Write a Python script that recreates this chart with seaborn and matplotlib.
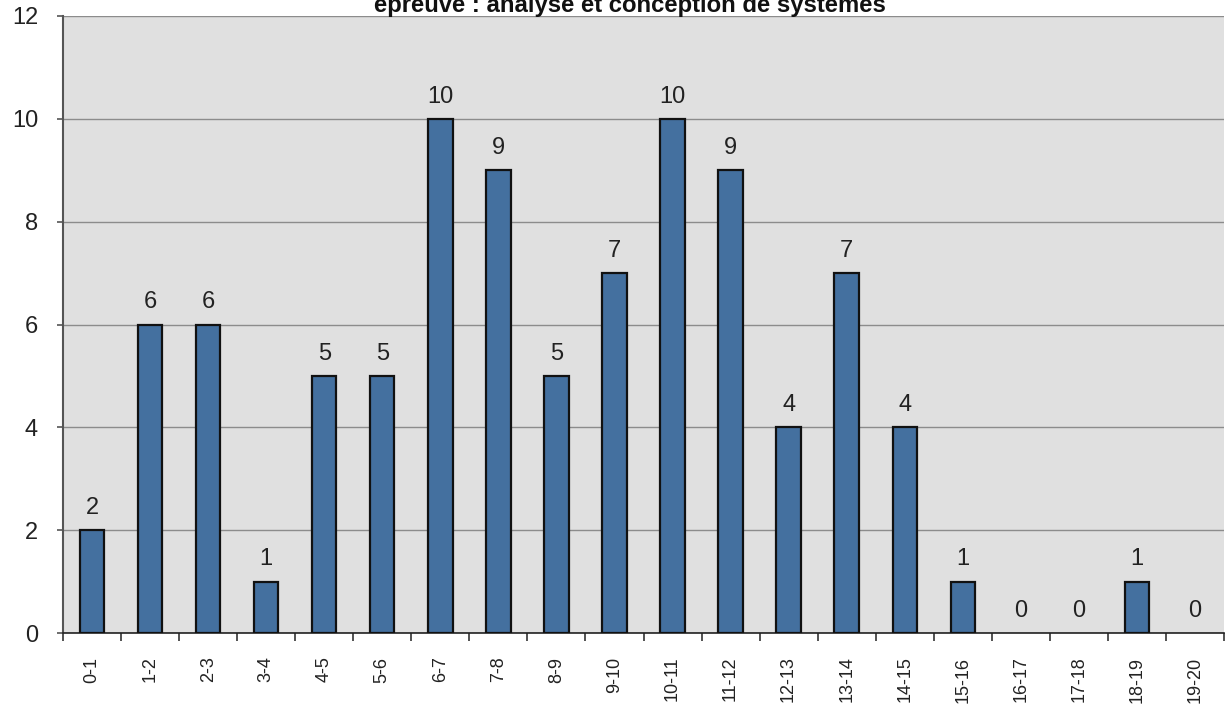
import matplotlib
matplotlib.use("Agg")
import matplotlib.pyplot as plt
import seaborn as sns
import pandas as pd
import numpy as np

# Score brackets and number of candidates in each
intervals = ["0-1", "1-2", "2-3", "3-4", "4-5", "5-6", "6-7", "7-8", "8-9", "9-10",
             "10-11", "11-12", "12-13", "13-14", "14-15", "15-16", "16-17", "17-18",
             "18-19", "19-20"]
counts = [2, 6, 6, 1, 5, 5, 10, 9, 5, 7, 10, 9, 4, 7, 4, 1, 0, 0, 1, 0]
y_ticks = [0, 2, 4, 6, 8, 10, 12]
title = "épreuve : analyse et conception de systèmes"

df = pd.DataFrame({"intervalle": intervals, "effectif": counts})

sns.set_theme(style="white")
plt.rcParams["font.family"] = ["Liberation Sans", "DejaVu Sans"]

W, H = 1225, 717
fig = plt.figure(figsize=(W / 100, H / 100), dpi=100)
left, right, top, bottom = 63, 1224, 16, 633
ax = fig.add_axes([left / W, (H - bottom) / H, (right - left) / W, (bottom - top) / H])
ax.set_facecolor("#e0e0e0")

sns.barplot(data=df, x="intervalle", y="effectif", ax=ax, color="#44709f",
            saturation=1, width=0.42, edgecolor="#111111", linewidth=1.6, zorder=3)

# empty brackets get no outline
for patch, c in zip(ax.patches, counts):
    if c == 0:
        patch.set_linewidth(0)

ax.bar_label(ax.containers[0], labels=[str(c) for c in counts], padding=8,
             fontsize=17, color="#222222")

ax.set_ylim(0, 12)
ax.set_xlim(-0.5, len(intervals) - 0.5)
ax.set_yticks(y_ticks)
ax.set_yticklabels([str(t) for t in y_ticks], fontsize=17, color="#222222")
ax.yaxis.grid(True, color="#8c8c8c", linewidth=1.0, zorder=0)
ax.set_axisbelow(True)

# category labels at bar centres, tick marks at bracket boundaries
ax.set_xticks(range(len(intervals)))
ax.set_xticklabels(intervals, rotation=90, fontsize=13, color="#222222")
ax.set_xticks(np.arange(-0.5, len(intervals)), minor=True)
ax.tick_params(axis="x", which="major", length=0, pad=17)
ax.tick_params(axis="x", which="minor", length=6, width=1.2, color="#333333", bottom=True)
ax.tick_params(axis="y", which="major", length=4, width=1.2, color="#555555", left=True, pad=14)

ax.set_xlabel("")
ax.set_ylabel("")
for side in ["top", "right"]:
    ax.spines[side].set_visible(False)
ax.spines["left"].set_color("#555555")
ax.spines["left"].set_linewidth(1.5)
ax.spines["bottom"].set_color("#222222")
ax.spines["bottom"].set_linewidth(1.2)

fig.text(630 / W, 1 - 12 / H, title, ha="center", va="baseline",
         fontsize=17.2, fontweight="bold", color="#111111")

fig.savefig("out.png", dpi=100, facecolor="white")
